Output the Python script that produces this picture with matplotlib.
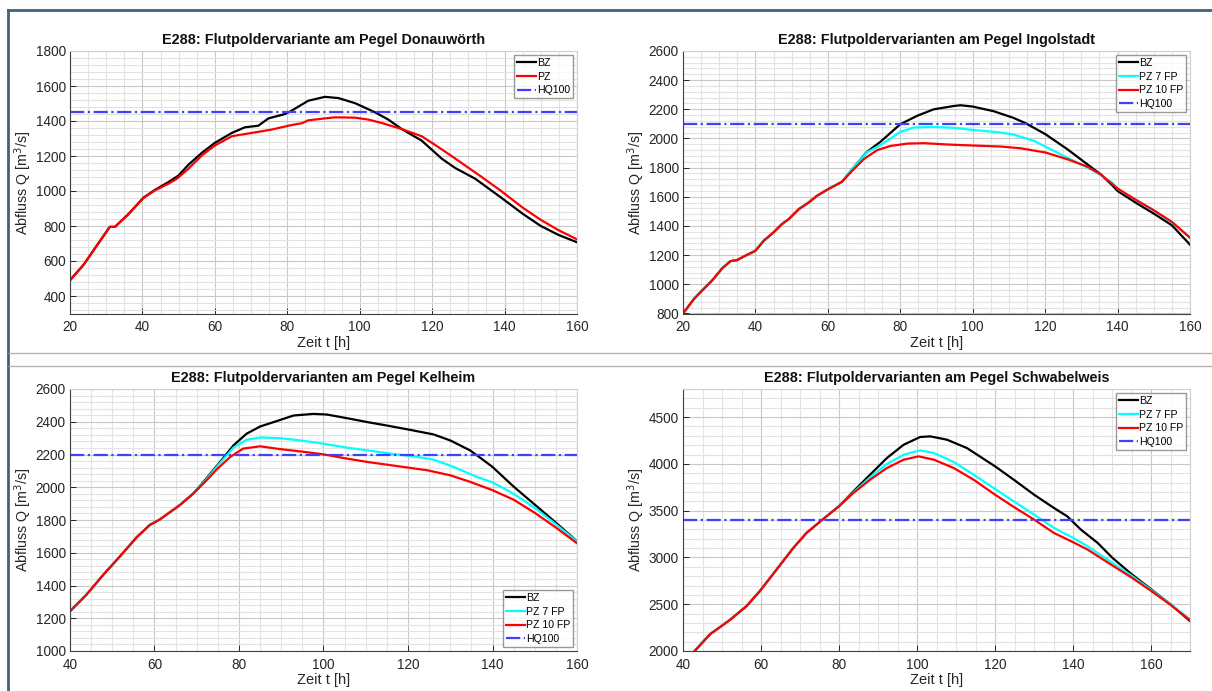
import matplotlib
matplotlib.use("Agg")
import matplotlib.pyplot as plt
from matplotlib.lines import Line2D
from matplotlib.ticker import MultipleLocator

plt.rcParams['font.family'] = ['Liberation Sans', 'DejaVu Sans']

# ---------------- data ----------------
# Donauwoerth
t_don_bz = [20, 23.7, 27.8, 31, 32.4, 36, 40.3, 43.5, 47.2, 50, 52.7, 56.4, 60, 64.7, 68.3, 72, 74.8, 79.4,
            81.2, 85.8, 90.4, 94.1, 98.7, 104.3, 107.9, 111.6, 117.1, 122.7, 126.4, 131.9, 138.8, 145, 150, 155, 160]
q_don_bz = [490, 577, 700, 795, 795, 865, 962, 1007, 1051, 1089, 1150, 1218, 1275, 1332, 1364, 1373, 1415, 1440,
            1459, 1516, 1538, 1531, 1502, 1449, 1408, 1354, 1288, 1184, 1131, 1070, 966, 870, 800, 748, 707]
t_don_pz = [20, 23.7, 27.8, 31, 32.4, 36, 40.3, 43.5, 47.2, 49.5, 52.7, 56.4, 60, 64.7, 70.2, 75.7, 80.3, 82,
            84, 85.8, 90.4, 93.2, 98.7, 102.4, 106, 111.6, 117.1, 120.4, 124.5, 129.1, 133.7, 138.8, 145, 150, 155, 160]
q_don_pz = [490, 577, 700, 795, 795, 865, 960, 1004, 1042, 1070, 1127, 1203, 1260, 1313, 1332, 1351, 1373, 1380,
            1387, 1404, 1415, 1421, 1419, 1408, 1389, 1354, 1313, 1269, 1212, 1146, 1080, 1004, 905, 835, 775, 724]
hq_don = 1450

# Ingolstadt
t_ing_rise = [20, 23, 25.7, 28, 30.8, 33.1, 34.9, 37.2, 40, 42.3, 45, 47.3, 49.2, 52, 54.7, 57, 60.1, 63.9]
q_ing_rise = [800, 899, 968, 1025, 1109, 1159, 1166, 1196, 1230, 1299, 1356, 1413, 1447, 1516, 1561, 1607, 1653, 1703]
t_ing_bz = [67.1, 70.8, 74.5, 80, 84.6, 89.2, 94.8, 96.6, 100, 105.8, 111.3, 114.6, 120.1, 126.1, 131.6,
            135.3, 138.5, 140, 145, 150, 155, 160]
q_ing_bz = [1801, 1908, 1977, 2098, 2155, 2200, 2223, 2228, 2219, 2187, 2141, 2105, 2029, 1927, 1824,
            1755, 1680, 1640, 1560, 1485, 1405, 1272]
t_ing_7 = [67.1, 70.8, 74.5, 80, 83.7, 89.2, 94.8, 100, 107.7, 111.3, 116.9, 122.4, 127.9, 133.4, 138.5,
           140, 145, 150, 155, 160]
q_ing_7 = [1801, 1905, 1954, 2045, 2075, 2079, 2073, 2059, 2041, 2027, 1984, 1915, 1847, 1778, 1698,
           1655, 1580, 1505, 1425, 1320]
t_ing_10 = [66.7, 69.9, 73.6, 77.3, 81.9, 86.5, 93.8, 100, 107.7, 113.2, 120.1, 126.1, 131.6, 135.3,
            140, 145, 150, 155, 160]
q_ing_10 = [1778, 1858, 1920, 1949, 1965, 1968, 1958, 1952, 1945, 1933, 1904, 1858, 1808, 1755,
            1657, 1580, 1508, 1428, 1320]
hq_ing = 2100

# Kelheim
t_kel_rise = [40, 43.9, 47.9, 51.8, 55.8, 58.9, 61.3, 63.3, 66, 69.2]
q_kel_rise = [1243, 1344, 1466, 1577, 1695, 1770, 1804, 1841, 1891, 1962]
t_kel_bz = [71.6, 75.5, 78.7, 81.8, 85, 88.1, 92.9, 97.6, 100.8, 105.5, 111, 115, 120, 126, 130, 134.7,
            137.9, 140, 145, 150, 155, 160]
q_kel_bz = [2033, 2154, 2256, 2327, 2371, 2397, 2438, 2448, 2444, 2422, 2395, 2377, 2353, 2323, 2286, 2225,
            2165, 2124, 2004, 1894, 1784, 1670]
t_kel_7 = [71.6, 75.5, 78.7, 81.8, 85, 89.7, 94.5, 100, 105.5, 111, 116.6, 121.3, 126, 130.8, 136.3,
           140, 145, 150, 155, 160]
q_kel_7 = [2028, 2148, 2242, 2290, 2304, 2300, 2286, 2266, 2242, 2223, 2203, 2189, 2169, 2124, 2063,
           2030, 1960, 1874, 1774, 1668]
t_kel_10 = [71.6, 74.7, 77.9, 81, 85, 89.7, 94.5, 100, 105.5, 111, 115, 120, 124.5, 130, 134.7, 140,
            145, 150, 155, 160]
q_kel_10 = [2023, 2108, 2185, 2236, 2250, 2233, 2219, 2201, 2175, 2152, 2138, 2120, 2104, 2073, 2033, 1982,
            1924, 1844, 1754, 1658]
hq_kel = 2200

# Schwabelweis
t_sch_rise = [43, 46.9, 52, 56.3, 59.7, 64, 68.3, 71.7, 76, 80]
q_sch_rise = [2000, 2178, 2331, 2480, 2640, 2871, 3102, 3263, 3412, 3547]
t_sch_bz = [83.7, 88, 92.3, 96.6, 100.8, 103.4, 107.7, 112.8, 120, 124.8, 130, 135.1, 138.5, 142, 146.3,
            150.1, 155, 160, 165, 170]
q_sch_bz = [3707, 3885, 4063, 4205, 4287, 4294, 4258, 4169, 3974, 3831, 3671, 3529, 3440, 3298, 3156,
            2996, 2822, 2661, 2500, 2320]
t_sch_7 = [83.7, 88, 92.3, 96.6, 100.8, 104.3, 109.4, 114.5, 120, 124.8, 130, 135.1, 140, 143.7, 150.1,
           155, 160, 165, 170]
q_sch_7 = [3696, 3856, 3999, 4098, 4144, 4116, 4020, 3885, 3732, 3600, 3458, 3316, 3209, 3120, 2942,
           2804, 2654, 2500, 2338]
t_sch_10 = [83.7, 88, 92.3, 96.6, 100.4, 104.3, 109.4, 114.5, 120, 124.8, 130, 135.1, 140, 143.7, 150.1,
            155, 160, 165, 170]
q_sch_10 = [3689, 3831, 3956, 4045, 4080, 4045, 3956, 3831, 3671, 3540, 3405, 3262, 3163, 3085, 2914,
            2786, 2643, 2493, 2329]
hq_sch = 3400

titles = ["E288: Flutpoldervariante am Pegel Donauwörth",
          "E288: Flutpoldervarianten am Pegel Ingolstadt",
          "E288: Flutpoldervarianten am Pegel Kelheim",
          "E288: Flutpoldervarianten am Pegel Schwabelweis"]
xlabel = "Zeit t [h]"
ylabel = "Abfluss Q [m$^3$/s]"

# ---------------- figure ----------------
W, H = 1212, 691
fig = plt.figure(figsize=(W / 100, H / 100), dpi=100)
fig.patch.set_facecolor('white')

def ax_at(l, r, t, b):
    return fig.add_axes([l / W, 1 - b / H, (r - l) / W, (b - t) / H])

BLUE = (0.25, 0.25, 1.0)
C_BZ, C_7, C_10 = 'black', '#00ffff', '#ff0000'
LW = 1.6

def style(ax, xlim, ylim, xmaj, ymaj, ymin, title):
    ax.set_xlim(*xlim)
    ax.set_ylim(*ylim)
    ax.xaxis.set_major_locator(MultipleLocator(xmaj))
    ax.xaxis.set_minor_locator(MultipleLocator(5))
    ax.yaxis.set_major_locator(MultipleLocator(ymaj))
    ax.yaxis.set_minor_locator(MultipleLocator(ymin))
    ax.set_axisbelow(True)
    ax.grid(which='major', color='#c8c8c8', lw=0.8)
    ax.grid(which='minor', color='#e2e2e2', lw=0.8)
    ax.tick_params(which='major', direction='in', length=4, width=0.7, colors='#262626',
                   labelsize=9.8, top=False, right=False)
    ax.tick_params(axis='x', which='major', pad=5)
    ax.tick_params(axis='y', which='major', pad=3)
    ax.tick_params(which='minor', length=0)
    for s in ['left', 'bottom']:
        ax.spines[s].set_color('#404040')
        ax.spines[s].set_linewidth(0.8)
    for s in ['top', 'right']:
        ax.spines[s].set_color('#d0d0d0')
        ax.spines[s].set_linewidth(0.8)
    ax.set_title(title, fontsize=10.4, fontweight='bold', pad=5, color='#111111')
    ax.set_xlabel(xlabel, fontsize=10.5, color='#262626', labelpad=1)
    ax.set_ylabel(ylabel, fontsize=10.3, color='#262626', labelpad=1)

def legend(ax, loc):
    lg = ax.legend(loc=loc, fontsize=7.6, frameon=True, fancybox=False, handlelength=1.8,
                   handletextpad=0.1, borderpad=0.3, labelspacing=0.35, borderaxespad=0.35)
    lg.get_frame().set_edgecolor('#808080')
    lg.get_frame().set_linewidth(1.0)

# Top-left: Donauwoerth
ax1 = ax_at(70, 577, 51, 313.5)
ax1.plot(t_don_bz, q_don_bz, color=C_BZ, lw=LW, label='BZ')
ax1.plot(t_don_pz, q_don_pz, color=C_10, lw=LW, label='PZ')
ax1.axhline(hq_don, color=BLUE, lw=LW, ls='-.', label='HQ100')
style(ax1, (20, 160), (300, 1800), 20, 200, 40, titles[0])
legend(ax1, 'upper right')

# Top-right: Ingolstadt
ax2 = ax_at(683, 1190, 51, 313.5)
ax2.plot(t_ing_rise + t_ing_bz, q_ing_rise + q_ing_bz, color=C_BZ, lw=LW, label='BZ')
ax2.plot(t_ing_rise + t_ing_7, q_ing_rise + q_ing_7, color=C_7, lw=LW, label='PZ 7 FP')
ax2.plot(t_ing_rise + t_ing_10, q_ing_rise + q_ing_10, color=C_10, lw=LW, label='PZ 10 FP')
ax2.axhline(hq_ing, color=BLUE, lw=LW, ls='-.', label='HQ100')
style(ax2, (20, 160), (800, 2600), 20, 200, 40, titles[1])
legend(ax2, 'upper right')

# Bottom-left: Kelheim
ax3 = ax_at(70, 577, 389, 651)
ax3.plot(t_kel_rise + t_kel_bz, q_kel_rise + q_kel_bz, color=C_BZ, lw=LW, label='BZ')
ax3.plot(t_kel_rise + t_kel_7, q_kel_rise + q_kel_7, color=C_7, lw=LW, label='PZ 7 FP')
ax3.plot(t_kel_rise + t_kel_10, q_kel_rise + q_kel_10, color=C_10, lw=LW, label='PZ 10 FP')
ax3.axhline(hq_kel, color=BLUE, lw=LW, ls='-.', label='HQ100')
style(ax3, (40, 160), (1000, 2600), 20, 200, 40, titles[2])
legend(ax3, 'lower right')

# Bottom-right: Schwabelweis
ax4 = ax_at(683, 1190, 389, 651)
ax4.plot(t_sch_rise + t_sch_bz, q_sch_rise + q_sch_bz, color=C_BZ, lw=LW, label='BZ')
ax4.plot(t_sch_rise + t_sch_7, q_sch_rise + q_sch_7, color=C_7, lw=LW, label='PZ 7 FP')
ax4.plot(t_sch_rise + t_sch_10, q_sch_rise + q_sch_10, color=C_10, lw=LW, label='PZ 10 FP')
ax4.axhline(hq_sch, color=BLUE, lw=LW, ls='-.', label='HQ100')
style(ax4, (40, 170), (2000, 4800), 20, 500, 100, titles[3])
legend(ax4, 'upper right')

# frame and separators
FRAME = '#3e6479'
fig.add_artist(Line2D([7.5 / W, 1.0], [1 - 9.5 / H, 1 - 9.5 / H], color=FRAME, lw=2.0))
fig.add_artist(Line2D([7.5 / W, 7.5 / W], [0, 1 - 9.5 / H], color=FRAME, lw=2.0))
for yy in (353, 366):
    fig.add_artist(Line2D([9 / W, 1.0], [1 - yy / H, 1 - yy / H], color='#b4b4b4', lw=1.0))

fig.savefig('out.png', dpi=100)
